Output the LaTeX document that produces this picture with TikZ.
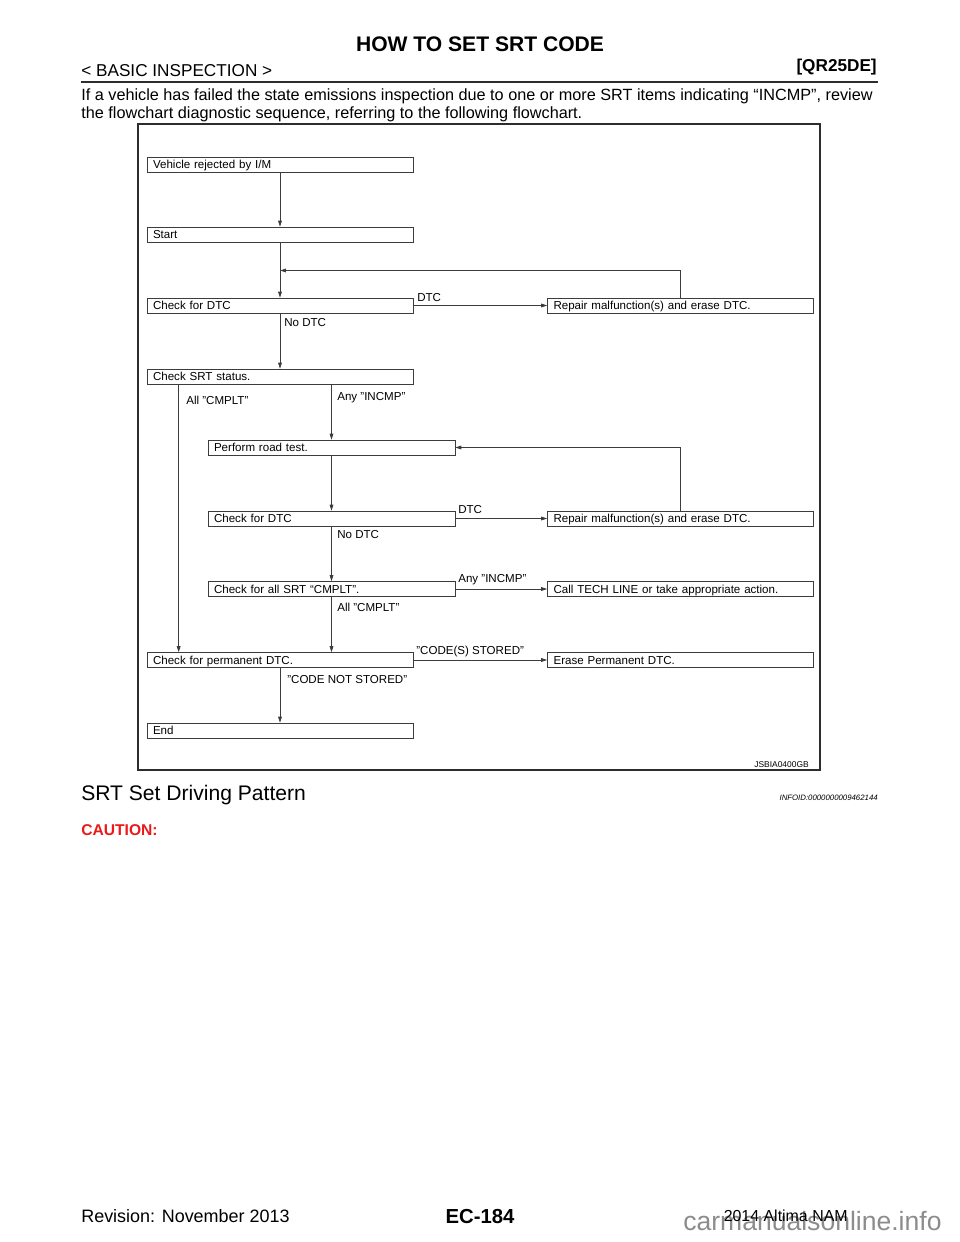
\documentclass[tikz,border=0pt]{standalone}
\usepackage{fontspec}
\setmainfont{Liberation Sans}
\usetikzlibrary{arrows.meta,positioning,calc}
\definecolor{framegr}{RGB}{45,45,45}
\definecolor{boxgr}{RGB}{60,60,60}
\definecolor{cautred}{RGB}{235,25,25}
\definecolor{markgr}{RGB}{140,140,140}

\begin{document}
\begin{tikzpicture}[x=0.0225cm,y=-0.0225cm,
    every node/.style={font=\fontsize{7.4}{8}\selectfont},
    stepbox/.style={draw=boxgr,line width=0.5pt,minimum height=0.3375cm,inner ysep=0pt,
      inner xsep=0.135cm,text width=5.715cm,align=left,text height=6.5pt,text depth=1.2pt},
    narrowbox/.style={stepbox,text width=5.2875cm},
    lbl/.style={anchor=west,inner sep=0pt},
    arr/.style={draw=boxgr,line width=0.5pt,-{Triangle[length=3.8pt,width=2.4pt]}}]
    \useasboundingbox (0,0) rectangle (960,1242);

    % Page header
    \node[font=\bfseries\fontsize{13.5}{16}\selectfont,anchor=base] (title) at (480,52) {HOW TO SET SRT CODE};
    \node[font=\fontsize{11}{13}\selectfont,anchor=base west,inner sep=0pt] (section) at (81,77) {< BASIC INSPECTION >};
    \node[font=\bfseries\fontsize{11}{13}\selectfont,anchor=base east,inner sep=0pt] (engine) at (877,72) {[QR25DE]};
    \draw[framegr,line width=1.4pt] (81,82) -- (878,82);
    \node[font=\fontsize{10.4}{12}\selectfont,anchor=base west,inner sep=0pt] (introA) at (81,100.5)
      {If a vehicle has failed the state emissions inspection due to one or more SRT items indicating “INCMP”, review};
    \node[font=\fontsize{10.4}{12}\selectfont,anchor=base west,inner sep=0pt] (introB) at (81,118.5)
      {the flowchart diagnostic sequence, referring to the following flowchart.};

    % Flowchart frame
    \draw[framegr,line width=1.3pt] (138,124) rectangle (820,770);
    \node[font=\fontsize{5.4}{6}\selectfont,anchor=base east,inner sep=0pt] (figid) at (809,767.5) {JSBIA0400GB};

    % Steps
    \node[stepbox] (vehicle) at (280,164.5) {Vehicle rejected by I/M};
    \node[stepbox] (start) at (280,234.5) {Start};
    \node[stepbox] (dtcA) at (280,305.5) {Check for DTC};
    \node[stepbox] (srt) at (280,376.5) {Check SRT status.};
    \node[narrowbox] (road) at (331.5,447.5) {Perform road test.};
    \node[narrowbox] (dtcB) at (331.5,518.5) {Check for DTC};
    \node[narrowbox] (allsrt) at (331.5,589) {Check for all SRT “CMPLT”.};
    \node[stepbox] (perm) at (280,660) {Check for permanent DTC.};
    \node[stepbox] (endbox) at (280,730.5) {End};

    % Actions
    \node[stepbox] (repairA) at (680.5,305.5) {Repair malfunction(s) and erase DTC.};
    \node[stepbox] (repairB) at (680.5,518.5) {Repair malfunction(s) and erase DTC.};
    \node[stepbox] (tech) at (680.5,589) {Call TECH LINE or take appropriate action.};
    \node[stepbox] (erase) at (680.5,660) {Erase Permanent DTC.};

    % Main flow
    \draw[arr] (vehicle) -- (start);
    \draw[arr] (start) -- (dtcA);
    \draw[arr] (dtcA) -- (srt);
    \draw[arr] (dtcA) -- (repairA);
    \coordinate (loopA) at (280,270.5);
    \draw[arr] (repairA.north) |- (loopA);
    \draw[arr] ($(srt.south west)+(32,0)$) -- ($(perm.north west)+(32,0)$);
    \draw[arr] (srt.south -| road.north) -- (road.north);
    \draw[arr] (road) -- (dtcB);
    \draw[arr] (dtcB) -- (allsrt);
    \draw[arr] (dtcB) -- (repairB);
    \draw[arr] (repairB.north) |- (road.east);
    \draw[arr] (allsrt) -- (tech);
    \draw[arr] (allsrt.south) -- (allsrt.south |- perm.north);
    \draw[arr] (perm) -- (erase);
    \draw[arr] (perm) -- (endbox);

    % Branch labels
    \node[lbl] (noA) at (284,323) {No DTC};
    \node[lbl] (cmpltA) at (186,400) {All "CMPLT"};
    \node[lbl] (incmpA) at (337,398) {Any "INCMP"};
    \node[lbl] (noB) at (337,535) {No DTC};
    \node[lbl] (cmpltB) at (337,607) {All "CMPLT"};
    \node[lbl] (notstored) at (287,680) {"CODE NOT STORED"};
    \node[lbl] (dtcLa) at (417,298) {DTC};
    \node[lbl] (dtcLb) at (458,510) {DTC};
    \node[lbl] (incmpB) at (458,580) {Any "INCMP"};
    \node[lbl] (stored) at (416,652) {"CODE(S) STORED"};

    % Next section
    \node[font=\fontsize{13.5}{16}\selectfont,anchor=base west,inner sep=0pt] (pattern) at (81,800) {SRT Set Driving Pattern};
    \node[font=\itshape\fontsize{5}{6}\selectfont,anchor=base east,inner sep=0pt] (infoid) at (878,800) {INFOID:0000000009462144};
    \node[font=\bfseries\fontsize{10}{12}\selectfont,text=cautred,anchor=base west,inner sep=0pt] (caution) at (81,835.5) {CAUTION:};

    % Footer
    \node[font=\fontsize{17}{20}\selectfont,text=markgr,anchor=base west,inner sep=0pt] (mark) at (683,1230) {carmanualsonline.info};
    \node[font=\fontsize{11.5}{13}\selectfont,anchor=base west,inner sep=0pt] (rev) at (81,1222) {Revision: November 2013};
    \node[font=\bfseries\fontsize{13}{16}\selectfont,anchor=base] (page) at (480,1223) {EC-184};
    \node[font=\fontsize{10.2}{12}\selectfont,anchor=base east,inner sep=0pt] (model) at (848,1221) {2014 Altima NAM};
  \end{tikzpicture}
\end{document}
